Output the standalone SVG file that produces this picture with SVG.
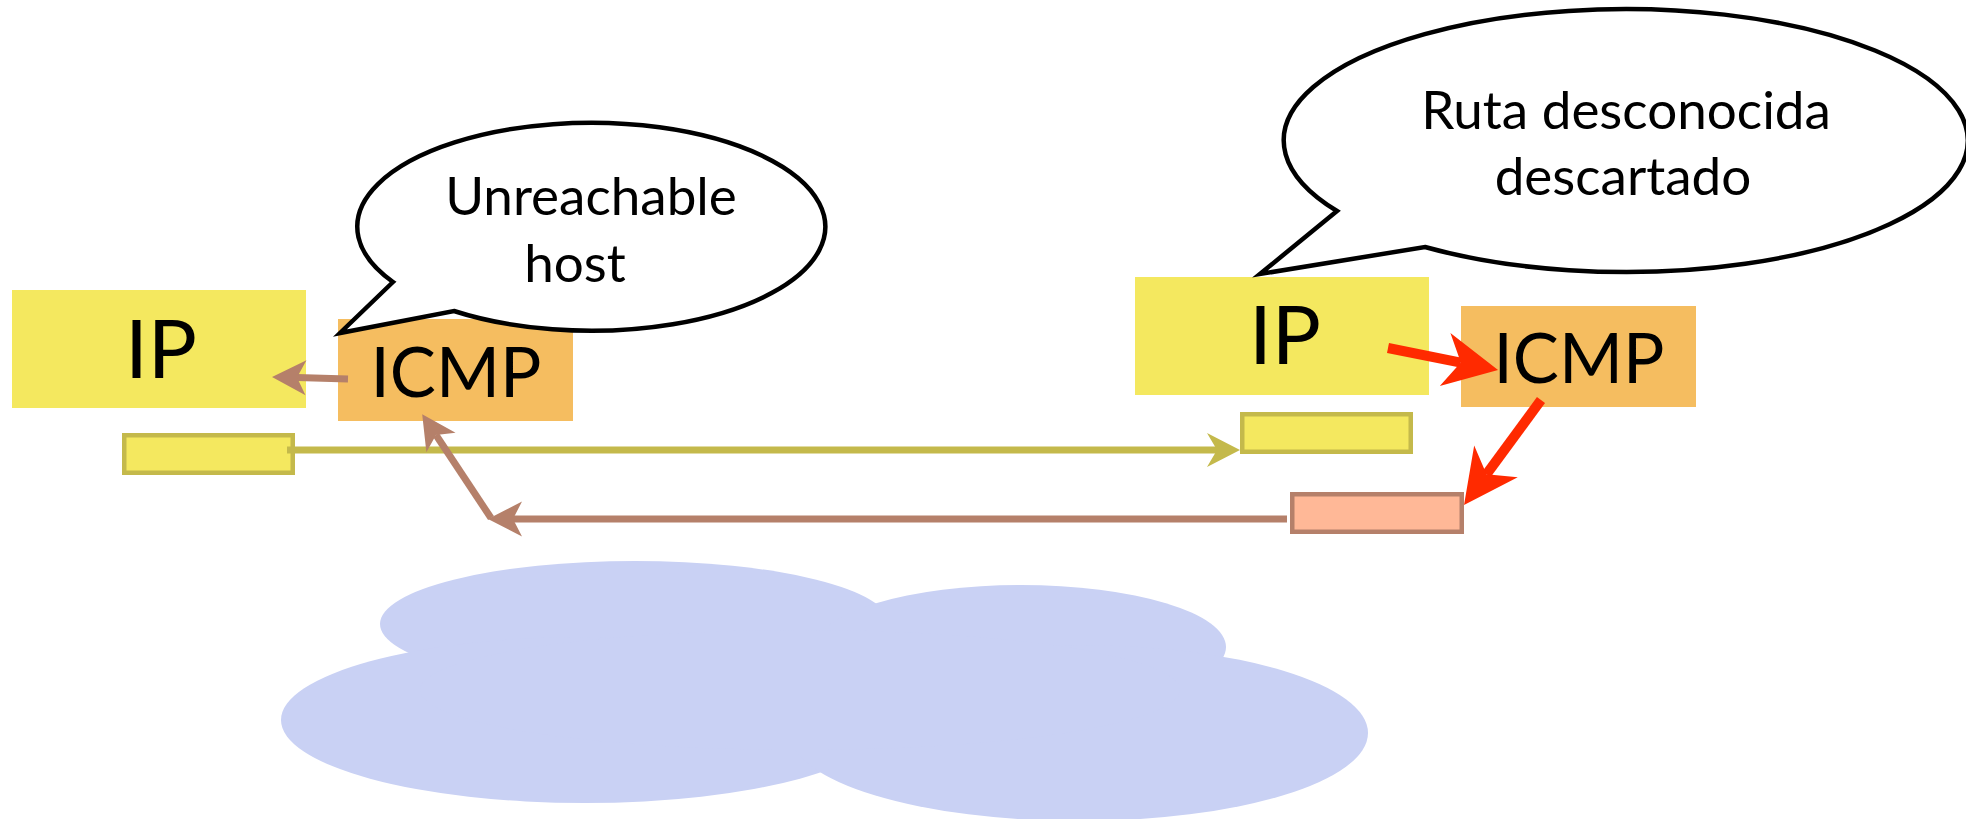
<svg xmlns="http://www.w3.org/2000/svg" width="1966" height="819" viewBox="0 0 1966 819">
<style>
.ip{fill:#F4E85F}
.icmp{fill:#F5BD60}
.big{font-family:Lato,"Open Sans","Liberation Sans",sans-serif;fill:#000;text-anchor:middle}
.bub{fill:#fff;stroke:#000;stroke-width:4.5;stroke-linejoin:miter}
.btxt{font-family:Lato,"Open Sans","Liberation Sans",sans-serif;font-size:53px;fill:#000;text-anchor:middle}
.pktY{fill:#F4E85F;stroke:#C4B94B;stroke-width:4.5}
.pktS{fill:#FFB897;stroke:#B5806A;stroke-width:4.5}
.cy{stroke:#C4B94B;stroke-width:7;fill:none}
.cb{stroke:#B5806A;stroke-width:7;fill:none}
.cr{stroke:#FF2A00;stroke-width:10;fill:none}
.cloud{fill:#C9D1F4}
</style>
<defs>
<marker id="mY" markerUnits="userSpaceOnUse" viewBox="-36 -20 38 40" markerWidth="38" markerHeight="40" refX="-23" refY="0" orient="auto">
<path d="M0,0 L-33,-17 L-23,0 L-33,17 Z" fill="#C4B94B"/>
</marker>
<marker id="mB" markerUnits="userSpaceOnUse" viewBox="-36 -20 38 40" markerWidth="38" markerHeight="40" refX="-25" refY="0" orient="auto">
<path d="M0,0 L-34,-17.5 L-25,0 L-34,17.5 Z" fill="#B5806A"/>
</marker>
<marker id="mR" markerUnits="userSpaceOnUse" viewBox="-56 -29 58 58" markerWidth="58" markerHeight="58" refX="-38" refY="0" orient="auto">
<path d="M0,0 L-54,-27 L-38,0 L-54,27 Z" fill="#FF2A00"/>
</marker>
</defs>

<g id="cloud">
<ellipse class="cloud" cx="635" cy="624" rx="255" ry="63"/>
<ellipse class="cloud" cx="1021" cy="647" rx="205" ry="62"/>
<ellipse class="cloud" cx="585" cy="720" rx="304" ry="83"/>
<ellipse class="cloud" cx="1079" cy="733" rx="289" ry="88"/>
<ellipse class="cloud" cx="800" cy="690" rx="380" ry="60"/>
</g>

<g id="ip-left">
<rect class="ip" x="12" y="290" width="294" height="118"/>
<text class="big" x="161" y="378" font-size="82">IP</text>
</g>
<g id="icmp-left">
<rect class="icmp" x="338" y="319" width="235" height="102"/>
<text class="big" x="456" y="397" font-size="69">ICMP</text>
</g>
<g id="ip-right">
<rect class="ip" x="1135" y="277" width="294" height="118"/>
<text class="big" x="1285" y="364" font-size="82">IP</text>
</g>
<g id="icmp-right">
<rect class="icmp" x="1461" y="306" width="235" height="101"/>
<text class="big" x="1579" y="383" font-size="69">ICMP</text>
</g>

<g id="packet-left">
<rect class="pktY" x="124.25" y="435.25" width="168.5" height="37.5"/>
</g>
<g id="packet-right">
<rect class="pktY" x="1242.25" y="414.25" width="168.5" height="37.5"/>
</g>
<g id="packet-error">
<rect class="pktS" x="1292.25" y="494.25" width="169.5" height="37.5"/>
</g>

<g id="connectors">
<line class="cy" x1="287" y1="450" x2="1217" y2="450" marker-end="url(#mY)"/>
<line class="cb" x1="348" y1="379" x2="297" y2="377.6" marker-end="url(#mB)"/>
<line class="cb" x1="1287" y1="519" x2="513" y2="519" marker-end="url(#mB)"/>
<line class="cb" x1="491" y1="518" x2="436" y2="435" marker-end="url(#mB)"/>
<line class="cr" x1="1388" y1="348" x2="1460.8" y2="362.6" marker-end="url(#mR)"/>
<line class="cr" x1="1541" y1="400" x2="1486.5" y2="474.3" marker-end="url(#mR)"/>
</g>

<g id="bubble-left">
<path class="bub" d="M393,282 L340,333 L454,311 A234,104 0 1 0 393,282 Z"/>
<text class="btxt" x="591" y="215">Unreachable</text>
<text class="btxt" x="575" y="282">host</text>
</g>
<g id="bubble-right">
<path class="bub" d="M1337,211 L1260,274 L1425,247 A342,131.5 0 1 0 1337,211 Z"/>
<text class="btxt" x="1626" y="129">Ruta desconocida</text>
<text class="btxt" x="1623" y="195">descartado</text>
</g>
</svg>
